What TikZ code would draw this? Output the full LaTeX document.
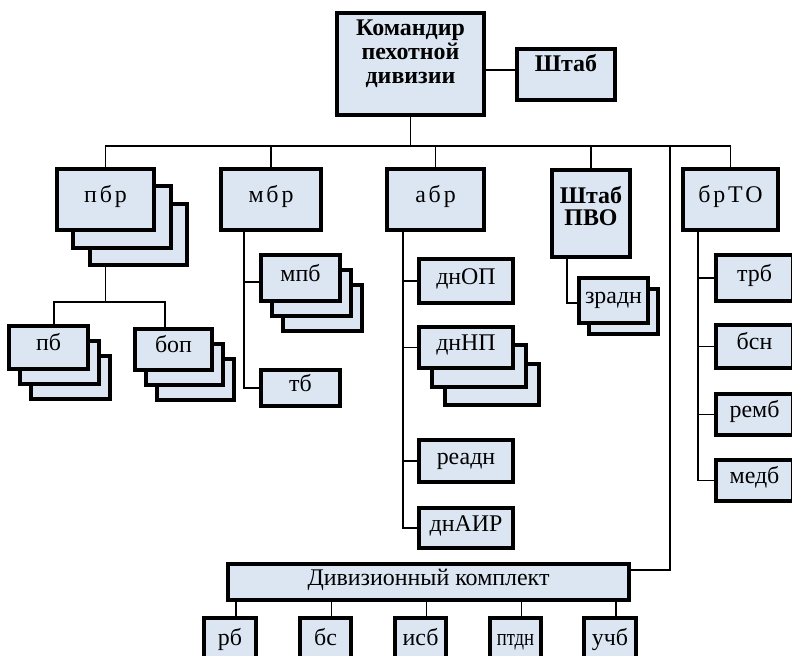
\documentclass[tikz,border=0pt]{standalone}
\usepackage{fontspec}
\setmainfont{Liberation Serif}
\usepackage{graphicx}
\usepackage{tikz}
\usetikzlibrary{positioning}
\usetikzlibrary{shadows}
\definecolor{unitColor}{HTML}{DCE6F2}

\tikzset{
  unitframe/.style={draw=black, line width=3.8bp, fill=unitColor, inner sep=0pt,
    font=\fontsize{24}{26}\selectfont},
  unitbox/.style={unitframe, text height=16bp, text depth=10bp},
  spaced/.style={font=\fontsize{24}{26}\selectfont\addfontfeature{LetterSpace=12}},
  stackcopy/.style 2 args={copy shadow={draw=black, fill=unitColor, shadow xshift=#1, shadow yshift=#2}},
  subunit/.style={unitbox, minimum width=51.5bp, minimum height=40.5bp, text depth=2bp},
  link/.style={line width=1.6bp}
}

\begin{document}
\begin{tikzpicture}[x=1bp, y=-1bp]
          \useasboundingbox (0,0) rectangle (792,656);
          % command
          \node[unitframe, minimum width=147.5bp, minimum height=102.5bp, font=\bfseries\fontsize{24}{24}\selectfont] (cmd) at (410.5,64) {\parbox[c][88bp][t]{140bp}{\centering Командир\\пехотной\\дивизии}};
          \node[unitbox, minimum width=98.5bp, minimum height=51.5bp, text depth=21bp, font=\bfseries\fontsize{24}{26}\selectfont] (shtab) at (566,74.5) {Штаб};

          % brigades
          \node[unitbox, spaced, minimum width=97.5bp, minimum height=61.5bp, stackcopy={33bp}{-35bp}, stackcopy={16.5bp}{-17.5bp}] (pbr) at (105.5,199.5) {пбр};
          \node[unitbox, spaced, minimum width=100.5bp, minimum height=61.5bp] (mbr) at (271,199.5) {мбр};
          \node[unitbox, spaced, minimum width=97.5bp, minimum height=61.5bp] (abr) at (435.5,199.5) {абр};
          \node[unitframe, minimum width=78.5bp, minimum height=87.5bp, font=\bfseries\fontsize{24}{22}\selectfont] (pvo) at (591,213.5) {\parbox[c][54bp][t]{74bp}{\centering Штаб\\ПВО}};
          \node[unitbox, spaced, minimum width=95.5bp, minimum height=61.5bp] (brto) at (730.5,199.5) {брТО};

          % battalions
          \node[unitbox, minimum width=79.5bp, minimum height=43.5bp, stackcopy={22bp}{-30bp}, stackcopy={11bp}{-15bp}] (pb) at (48.5,347.5) {пб};
          \node[unitbox, minimum width=77.5bp, minimum height=41.5bp, stackcopy={22bp}{-30bp}, stackcopy={11bp}{-15bp}] (bop) at (173.5,349.5) {боп};
          \node[unitbox, minimum width=79.5bp, minimum height=46.5bp, stackcopy={22bp}{-30bp}, stackcopy={11bp}{-15bp}] (mpb) at (300.5,278) {мпб};
          \node[unitbox, minimum width=79.5bp, minimum height=36.5bp] (tb) at (300.5,388) {тб};
          \node[unitbox, minimum width=94.5bp, minimum height=44.5bp] (dnop) at (466,281) {днОП};
          \node[unitbox, minimum width=94.5bp, minimum height=41.5bp, stackcopy={26bp}{-37bp}, stackcopy={13bp}{-18.5bp}] (dnnp) at (466,347.5) {днНП};
          \node[unitbox, minimum width=94.5bp, minimum height=42.5bp] (readn) at (466,461) {реадн};
          \node[unitbox, minimum width=94.5bp, minimum height=40.5bp] (dnair) at (466,528) {днАИР};
          \node[unitbox, minimum width=69.5bp, minimum height=45.5bp, stackcopy={10bp}{-11bp}] (zradn) at (613.5,300.5) {зрадн};
          \node[unitbox, minimum width=77.5bp, minimum height=46.5bp] (trb) at (754.5,278) {трб};
          \node[unitbox, minimum width=77.5bp, minimum height=43.5bp] (bsn) at (754.5,346.5) {бсн};
          \node[unitbox, minimum width=77.5bp, minimum height=41.5bp] (remb) at (754.5,414.5) {ремб};
          \node[unitbox, minimum width=77.5bp, minimum height=41.5bp] (medb) at (754.5,480.5) {медб};

          % divisional set
          \node[unitbox, minimum width=401.5bp, minimum height=36.5bp] (div) at (428.5,582) {Дивизионный комплект};
          \node[subunit] (rb) at (230,638) {рб};
          \node[subunit] (bs) at (325.5,638) {бс};
          \node[subunit] (isb) at (420.5,638) {исб};
          \node[subunit] (ptdn) at (515.5,638) {\scalebox{0.78}[1]{птдн}};
          \node[subunit] (ucb) at (610,638) {учб};

          % links
          \coordinate (bus) at (0,146);
          \coordinate (rtrunk) at (670,146);
          \coordinate (pbfork) at (105.5,302);
          \coordinate (mbrT) at ([xshift=-27bp]mbr.south);
          \coordinate (abrT) at ([xshift=-32.5bp]abr.south);
          \coordinate (pvoT) at ([xshift=-24bp]pvo.south);
          \coordinate (brtoT) at ([xshift=-32.5bp]brto.south);

          \draw[link] ([yshift=4.5bp]shtab.west) -- ([yshift=4.5bp]shtab.west -| cmd.east);
          \draw[link] (cmd.south) -- (cmd.south |- bus);
          \draw[link] (pbr.north) |- (brto.north |- bus) -- (brto.north);
          \foreach \n in {mbr,abr,pvo}
            \draw[link] (\n.north) -- (\n.north |- bus);
          \draw[link] ([yshift=12bp]div.east) -| (rtrunk);

          \draw[link] ([yshift=-35bp]pbr.south) -- (pbfork);
          \draw[link] ([xshift=5.5bp]pb.north) |- (pbfork) -| ([xshift=-8.5bp]bop.north);

          \draw[link] (mbrT) |- (tb.west);
          \draw[link] ([yshift=-4bp]mpb.west) -- ([yshift=-4bp]mpb.west -| mbrT);

          \draw[link] (abrT) |- (dnair.west);
          \foreach \n in {dnop,dnnp,readn}
            \draw[link] (\n.west) -- (\n.west -| abrT);

          \draw[link] (pvoT) |- ([yshift=-2.5bp]zradn.west);

          \draw[link] (brtoT) |- (medb.west);
          \foreach \n in {trb,bsn,remb}
            \draw[link] (\n.west) -- (\n.west -| brtoT);

          \foreach \n in {rb,bs,isb,ptdn,ucb}
            \draw[link] ([xshift=6bp]\n.north) -- ([xshift=6bp]\n.north |- div.south);
        \end{tikzpicture}
\end{document}
